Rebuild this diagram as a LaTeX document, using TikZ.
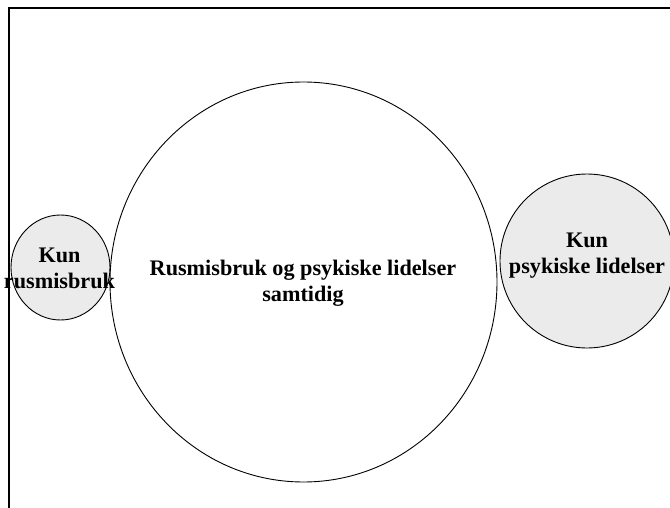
\documentclass[tikz,border=0pt]{standalone}
\usepackage{fontspec}
\setmainfont{Liberation Serif}
\usetikzlibrary{shapes.geometric}
\begin{document}
\begin{tikzpicture}[x=1pt,y=-1pt,
  blob/.style={ellipse,draw=black,line width=0.9pt,inner sep=0pt},
  grayblob/.style={blob,fill=black!8},
  lbl/.style={font=\bfseries\fontsize{22.2}{26}\selectfont,align=center,inner sep=0pt}]
\useasboundingbox (0,0) rectangle (670,508);
% frame (left and top edges)
\coordinate (fb) at (9,508);
\coordinate (fc) at (9,8);
\coordinate (fr) at (670,8);
\draw[line width=2.4pt] (fb) -- (fc) -- (fr);
% circles
\node[grayblob,minimum width=174,minimum height=174] (right) at (587,261) {};
\node[grayblob,minimum width=99,minimum height=105] (left) at (60.5,267.5) {};
\node[blob,minimum width=387,minimum height=400] (big) at (303.5,282) {};
% texts
\node[lbl] (tbig) at (303,283) {Rusmisbruk og psykiske lidelser\\samtidig};
\node[lbl] (tleft) at (59.5,268) {Kun\\rusmisbruk};
\node[lbl] (tright) at (587,256) {Kun\\psykiske lidelser};
\end{tikzpicture}
\end{document}
